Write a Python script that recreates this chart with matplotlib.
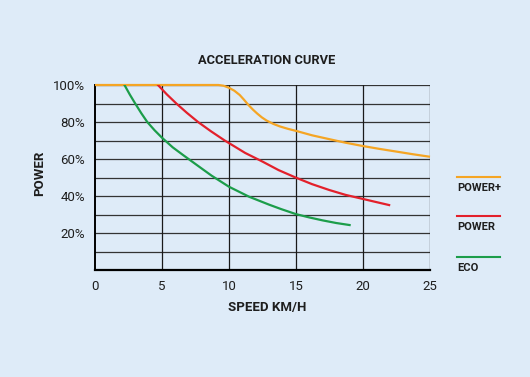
import matplotlib.pyplot as plt
from matplotlib.lines import Line2D

# values
eco_speed = [2.2, 2.6, 3.0, 3.45, 3.9, 4.45, 5.0, 5.8, 6.6, 7.8, 8.7, 10.0, 11.5, 13.0, 13.9, 15.0, 16.0, 17.0, 18.0, 19.0]
eco_power = [100, 94.8, 90, 84.8, 80, 75.5, 71.5, 66.3, 62.0, 55.7, 51.0, 45.0, 39.6, 35.3, 32.9, 30.2, 28.4, 26.8, 25.4, 24.3]

power_speed = [4.7, 5.35, 6.07, 6.85, 7.69, 8.65, 9.68, 10.0, 11.2, 12.5, 13.7, 15.0, 16.2, 17.5, 18.7, 20.0, 21.0, 21.95]
power_power = [100, 95, 90, 85, 80, 75, 70, 68.6, 63.3, 58.6, 54.0, 49.9, 46.4, 43.2, 40.6, 38.4, 36.7, 35.1]

powerplus_speed = [0, 5, 9.2, 9.6, 10.0, 10.4, 10.8, 11.1, 11.45, 11.8, 12.1, 12.45, 12.8, 13.3, 13.8, 14.4, 15.0, 16.2, 17.5, 18.7, 20.0, 21.2, 22.5, 23.7, 25.0]
powerplus_power = [100, 100, 100, 99.6, 98.5, 96.9, 94.6, 92.2, 89.2, 86.6, 84.6, 82.5, 80.8, 79.0, 77.6, 76.3, 75.2, 72.8, 70.7, 68.8, 67.0, 65.5, 64.0, 62.6, 61.2]

y_ticks = [20, 40, 60, 80, 100]
x_ticks = [0, 5, 10, 15, 20, 25]

legend_names = ["POWER+", "POWER", "ECO"]
colors = ["#f5a524", "#e3202b", "#1c9d4a"]

BG = "#deebf8"
TXT = "#1e1e1e"
FONT = ["Roboto", "DejaVu Sans"]


def main():
    plt.rcParams["font.family"] = FONT

    fig = plt.figure(figsize=(5.30, 3.77), dpi=100, facecolor=BG)
    ax = fig.add_axes([95 / 530, 1 - 270 / 377, 335 / 530, 185 / 377])
    ax.set_facecolor(BG)

    ax.set_xlim(0, 25)
    ax.set_ylim(0, 100)

    ax.set_xticks(x_ticks)
    ax.set_xticklabels([str(v) for v in x_ticks], fontsize=9.5, color=TXT)
    ax.set_yticks(y_ticks)
    ax.set_yticklabels([f"{v}%" for v in y_ticks], fontsize=9.5, color=TXT)
    ax.tick_params(length=0, pad=7)

    for v in range(10, 101, 10):
        ax.axhline(v, color="#333333", lw=0.9, zorder=1)
    for v in x_ticks[1:]:
        ax.axvline(v, color="#1a1a1a", lw=0.9, zorder=1)

    for side in ["top", "right"]:
        ax.spines[side].set_visible(False)
    ax.spines["left"].set_linewidth(1.4)
    ax.spines["bottom"].set_linewidth(1.6)

    ax.plot(powerplus_speed, powerplus_power, color=colors[0], lw=1.6, zorder=3,
            clip_on=False, solid_capstyle="butt", solid_joinstyle="round")
    ax.plot(power_speed, power_power, color=colors[1], lw=1.6, zorder=3,
            solid_joinstyle="round")
    ax.plot(eco_speed, eco_power, color=colors[2], lw=1.6, zorder=3,
            solid_joinstyle="round")

    fig.text(267 / 530, 1 - 61 / 377, "ACCELERATION CURVE", ha="center", va="center",
             fontsize=9.3, fontweight="bold", color=TXT)
    ax.set_xlabel("SPEED KM/H", fontsize=9.5, fontweight="bold", color=TXT)
    ax.xaxis.set_label_coords((267 - 95) / 335, -(307 - 270) / 185)
    ax.set_ylabel("POWER", fontsize=9.5, fontweight="bold", color=TXT)
    ax.yaxis.set_label_coords(-(95 - 40) / 335, (270 - 173) / 185)
    ax.xaxis.label.set_va("center")
    ax.yaxis.label.set_va("center")

    # legend drawn by hand: short line above each name
    line_y = [177, 216, 257]
    for name, color, ly in zip(legend_names, colors, line_y):
        fig.add_artist(Line2D([457 / 530, 500 / 530], [1 - ly / 377, 1 - ly / 377],
                              color=color, lw=1.5, transform=fig.transFigure))
        fig.text(457 / 530, 1 - (ly + 11) / 377, name, ha="left", va="center",
                 fontsize=8, fontweight="bold", color=TXT)

    fig.savefig("out.png", dpi=100, facecolor=BG)


if __name__ == "__main__":
    main()
